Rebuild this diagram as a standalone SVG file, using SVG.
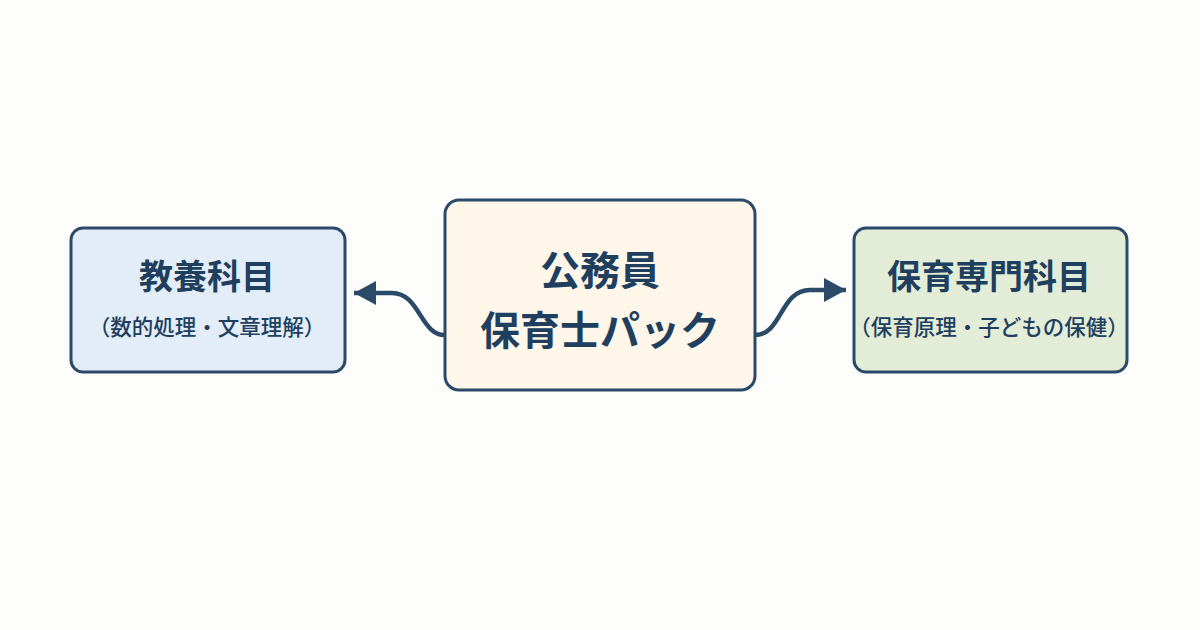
<svg xmlns="http://www.w3.org/2000/svg" width="1200" height="630" viewBox="0 0 1200 630">
<style>
.box{stroke:#2b4a6a;stroke-width:3}
.t{font-family:"Noto Sans CJK JP","Noto Sans",sans-serif;fill:#203f5e;text-anchor:middle}
.title{font-size:34px;font-weight:700}
.main{font-size:40px;font-weight:700}
.sub{font-size:21.5px;font-weight:500}
.conn{fill:none;stroke:#2b4a6a;stroke-width:4.5;stroke-linecap:butt}
</style>
<defs>
<marker id="arr" markerUnits="userSpaceOnUse" markerWidth="26" markerHeight="26" refX="22" refY="12" orient="auto">
<path d="M0,0 L22,12 L0,24 Z" fill="#2b4a6a"/>
</marker>
</defs>
<rect width="1200" height="630" fill="#fdfdfc"/>
<g id="connectors">
<path class="conn" d="M445,335 C420,335 420,293 392,293 L354,293" marker-end="url(#arr)"/>
<path class="conn" d="M755,335 C782,335 780,290 810,290 L846,290" marker-end="url(#arr)"/>
</g>
<g id="node-left">
<rect class="box" x="71" y="228" width="274" height="144" rx="12" fill="#e3edf7"/>
<text class="t title" x="207" y="289">教養科目</text>
<text class="t sub" x="207" y="335">（数的処理・文章理解）</text>
</g>
<g id="node-center">
<rect class="box" x="445" y="200" width="310" height="190" rx="14" fill="#fdf6e9"/>
<text class="t main" x="600" y="285">公務員</text>
<text class="t main" x="600" y="345">保育士パック</text>
</g>
<g id="node-right">
<rect class="box" x="854" y="228" width="273" height="144" rx="12" fill="#e3ecd6"/>
<text class="t title" x="989" y="289">保育専門科目</text>
<text class="t sub" x="989" y="335">（保育原理・子どもの保健）</text>
</g>
</svg>
